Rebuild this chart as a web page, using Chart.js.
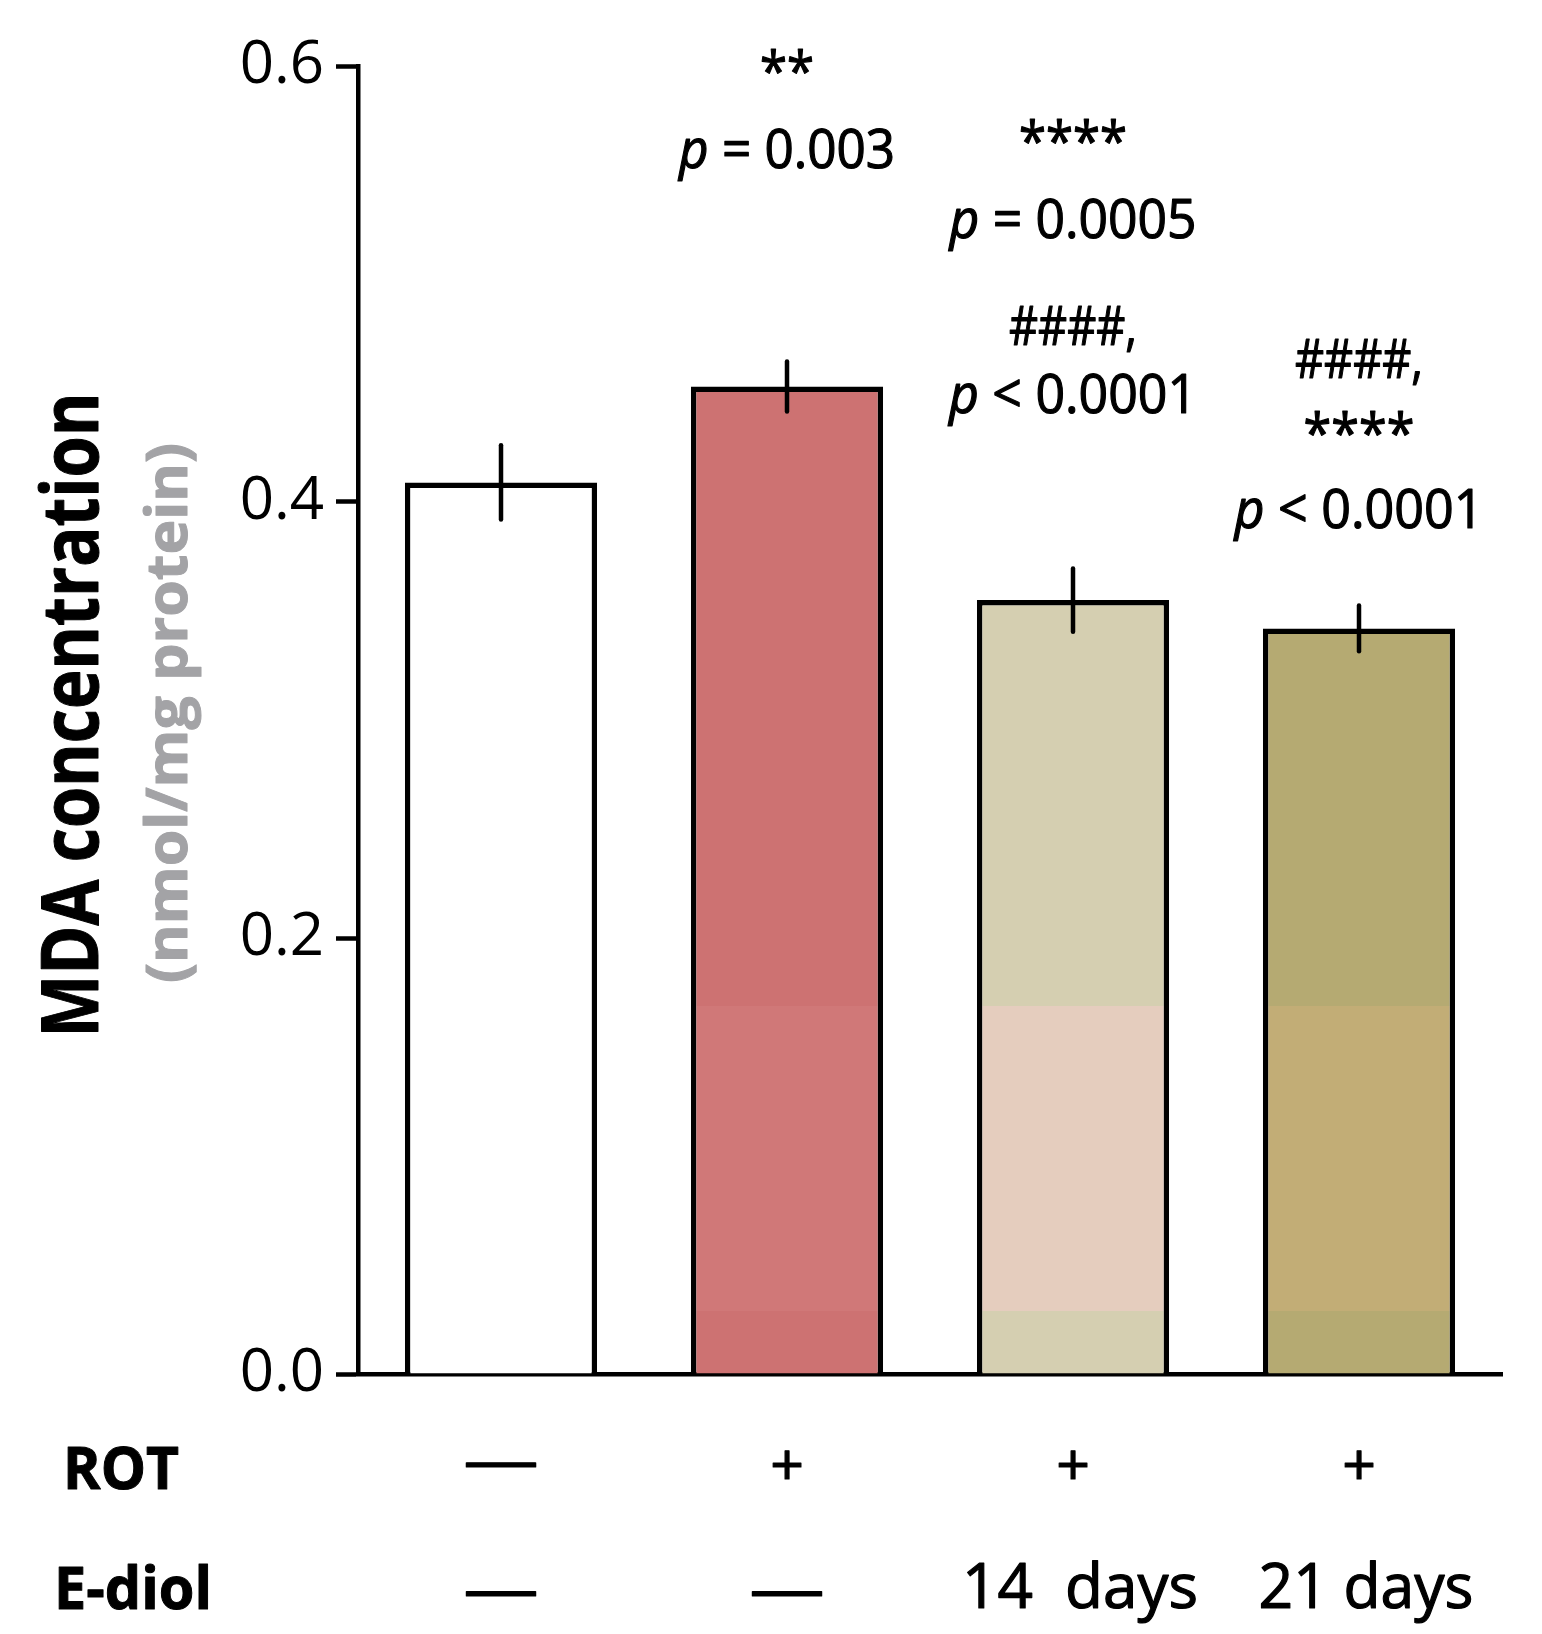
<html>
<head>
<title>MDA concentration - bar chart</title>
<style>
  body { margin: 0; background: #ffffff; }
  #wrap { width: 1542px; height: 1634px; }
</style>
</head>
<body>
<script src="https://cdn.jsdelivr.net/npm/chart.js@4.4.1/dist/chart.umd.min.js"></script>
<div id="wrap"><canvas id="myChart" width="1542" height="1634"></canvas></div>
<script>
// ---- data ----
const groups = ["Control", "ROT", "ROT + E-diol 14 d", "ROT + E-diol 21 d"];
const mdaMean = [0.409, 0.453, 0.355, 0.342];
const mdaSem = [0.017, 0.0115, 0.0145, 0.0105];
const yTicks = [0.0, 0.2, 0.4, 0.6];
const rowLabels = ["ROT", "E-diol"];
const rotRow = ["\u2014", "+", "+", "+"];
const ediolRow = ["\u2014", "\u2014", "14  days", "21 days"];
const sigText = [
  [],
  ["**", "p = 0.003"],
  ["****", "p = 0.0005", "####,", "p < 0.0001"],
  ["####,", "****", "p < 0.0001"]
];

// ---- styles / layout ----
const FONT = "'Open Sans', 'DejaVu Sans', sans-serif";
const barTop = ["#ffffff", "#cd7272", "#d5cfb1", "#b5aa72"];
const barMid = ["#ffffff", "#d07878", "#e5cdbe", "#c2ad76"];
const bandLo = 0.029, bandHi = 0.169;   // scan band in the original picture
// annotation line centres (in axis units) and target widths (px)
const sigY = [[], [0.602, 0.562], [0.570, 0.530, 0.481, 0.450], [0.466, 0.436, 0.397]];
const sigW = [[], [54, 216], [108, 247, 128, 248], [128, 111, 249]];

// draw a run of text parts squeezed to a width, centred on (cx, cy) by ink
function drawFit(ctx, parts, cx, cy, targetW, size, weight, color, inkSample, thicken) {
  let total = 0;
  const widths = parts.map(p => {
    ctx.font = (p.italic ? "italic " : "") + weight + " " + size + "px " + FONT;
    const w = ctx.measureText(p.text).width;
    total += w;
    return w;
  });
  ctx.font = weight + " " + size + "px " + FONT;
  const m = ctx.measureText(inkSample);
  const base = (m.actualBoundingBoxAscent - m.actualBoundingBoxDescent) / 2;
  const sx = targetW ? targetW / total : 1;
  ctx.save();
  ctx.translate(cx, cy + base);
  ctx.scale(sx, 1);
  ctx.fillStyle = color;
  ctx.strokeStyle = color;
  ctx.lineWidth = thicken || 0;
  ctx.lineJoin = "round";
  ctx.textAlign = "left";
  ctx.textBaseline = "alphabetic";
  let x = -total / 2;
  parts.forEach((p, i) => {
    ctx.font = (p.italic ? "italic " : "") + weight + " " + size + "px " + FONT;
    ctx.fillText(p.text, x, 0);
    if (thicken) ctx.strokeText(p.text, x, 0);
    x += widths[i];
  });
  ctx.restore();
}

function splitP(line) {
  if (line.startsWith("p ")) {
    return { parts: [{ text: "p", italic: true }, { text: line.slice(1) }], ink: line.slice(1) };
  }
  return { parts: [{ text: line }], ink: line.replace(",", "") };
}

const errorBars = {
  id: "errorBars",
  afterDatasetsDraw(chart) {
    const { ctx, scales: { x, y } } = chart;
    ctx.save();
    ctx.strokeStyle = "#000";
    ctx.lineWidth = 4.5;
    ctx.lineCap = "round";
    mdaMean.forEach((v, i) => {
      const px = x.getPixelForValue(i);
      ctx.beginPath();
      ctx.moveTo(px, y.getPixelForValue(v + mdaSem[i]));
      ctx.lineTo(px, y.getPixelForValue(v - mdaSem[i]));
      ctx.stroke();
    });
    ctx.restore();
  }
};

const extraText = {
  id: "extraText",
  afterDraw(chart) {
    const { ctx, scales: { x, y } } = chart;
    // y axis title, two colours
    ctx.save();
    ctx.translate(70, 715);
    ctx.rotate(-Math.PI / 2);
    drawFit(ctx, [{ text: "MDA concentration" }], 0, 0, 645, 78, "bold", "#000", "MDA", 1);
    ctx.restore();
    ctx.save();
    ctx.translate(172, 713);
    ctx.rotate(-Math.PI / 2);
    drawFit(ctx, [{ text: "(nmol/mg protein)" }], 0, 0, 540, 57, "bold", "#a3a3a6", "(nmol/mg protein)", 1);
    ctx.restore();

    // significance labels
    sigText.forEach((lines, i) => {
      const cx = x.getPixelForValue(i);
      lines.forEach((line, j) => {
        const s = splitP(line);
        drawFit(ctx, s.parts, cx, y.getPixelForValue(sigY[i][j]), sigW[i][j], 54, "normal", "#000", s.ink, 1.2);
      });
    });

    // treatment rows under the axis
    drawFit(ctx, [{ text: rowLabels[0] }], 63 + 58, 1468, 116, 59, "bold", "#000", "ROT", 1);
    drawFit(ctx, [{ text: rowLabels[1] }], 54 + 79, 1588, 158, 59, "bold", "#000", "E", 1);
    rotRow.forEach((t, i) => {
      const cx = x.getPixelForValue(i);
      drawFit(ctx, [{ text: t }], cx, 1464, t === "+" ? 0 : 75, 59, "normal", "#000", t, 1.2);
    });
    ediolRow.forEach((t, i) => {
      const cx = x.getPixelForValue(i) + (t === "\u2014" ? 0 : 7);
      const w = t === "\u2014" ? 75 : (i === 2 ? 236 : 215);
      drawFit(ctx, [{ text: t }], cx, t === "\u2014" ? 1593 : 1585, w, 62, "normal", "#000", t === "\u2014" ? t : "14", 1.2);
    });
  }
};

function bandFill(i) {
  return (context) => {
    const chart = context.chart;
    const area = chart.chartArea;
    if (!area) return barTop[i];
    const y = chart.scales.y;
    const g = chart.ctx.createLinearGradient(0, area.top, 0, area.bottom);
    const h = area.bottom - area.top;
    const tHi = (y.getPixelForValue(bandHi) - area.top) / h;
    const tLo = (y.getPixelForValue(bandLo) - area.top) / h;
    g.addColorStop(0, barTop[i]);
    g.addColorStop(tHi, barTop[i]);
    g.addColorStop(tHi + 0.0005, barMid[i]);
    g.addColorStop(tLo, barMid[i]);
    g.addColorStop(tLo + 0.0005, barTop[i]);
    g.addColorStop(1, barTop[i]);
    return g;
  };
}

const data = {
  labels: groups,
  datasets: [{
    label: "MDA",
    data: mdaMean,
    backgroundColor: (c) => bandFill(c.dataIndex)(c),
    borderColor: "#000",
    borderWidth: 5.5,
    categoryPercentage: 1.0,
    barPercentage: 0.672
  }]
};

const config = {
  type: "bar",
  data,
  options: {
    responsive: false,
    animation: false,
    layout: { padding: { left: 0, top: 66, right: 40, bottom: 0 } },
    plugins: {
      legend: { display: false },
      tooltip: { enabled: false }
    },
    scales: {
      x: {
        grid: { display: false },
        border: { display: true, color: "#000", width: 4.5 },
        ticks: { display: false },
        afterFit(s) { s.height = 1634 - 1374; }
      },
      y: {
        min: 0,
        max: 0.6,
        afterBuildTicks(s) { s.ticks = yTicks.map(v => ({ value: v })); },
        afterFit(s) { s.width = 358; },
        grid: {
          drawOnChartArea: false,
          drawTicks: true,
          tickLength: 22,
          tickWidth: 4.5,
          tickColor: "#000",
          color: "#000"
        },
        border: { display: true, color: "#000", width: 4.5 },
        ticks: {
          color: "#000",
          padding: 12,
          font: { family: FONT, size: 60 },
          callback: (v) => Number(v).toFixed(1)
        }
      }
    }
  },
  plugins: [errorBars, extraText]
};

const ctx = document.getElementById("myChart");
let myChart = new Chart(ctx, config);
</script>
</body>
</html>
